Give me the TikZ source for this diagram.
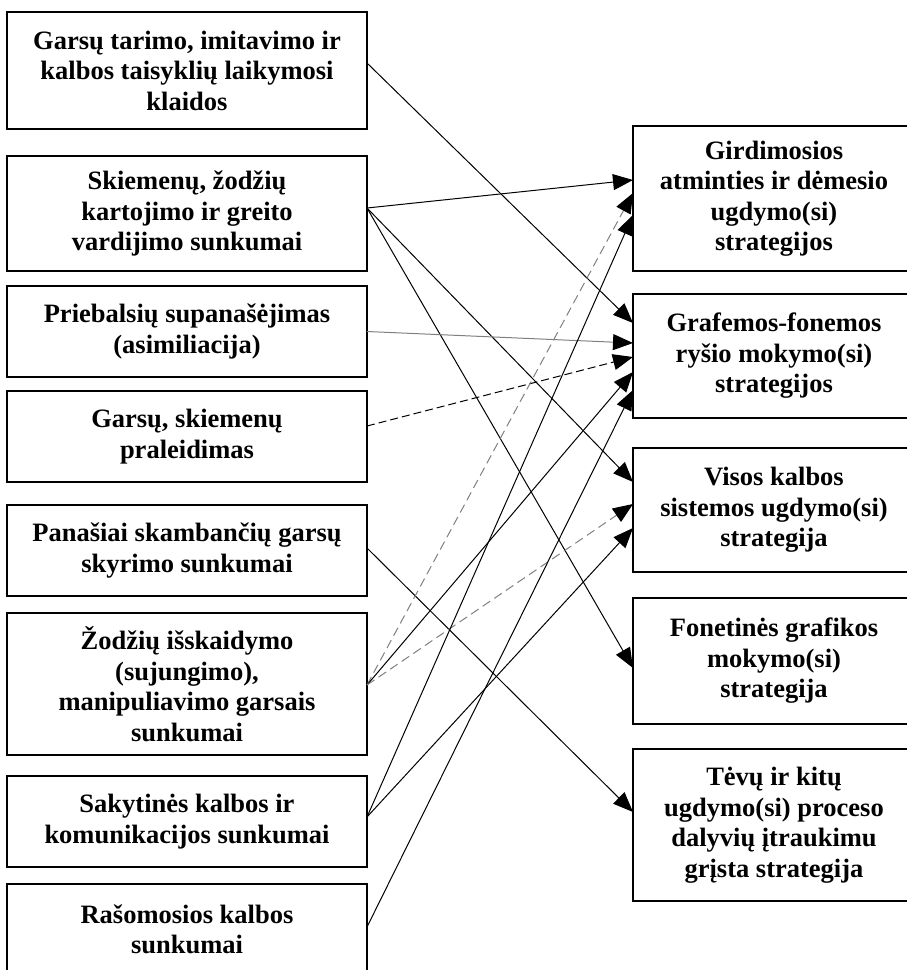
\documentclass[tikz,border=0pt]{standalone}
\usepackage{fontspec}
\setmainfont{Liberation Serif}
\usetikzlibrary{arrows.meta}

\tikzset{
  box/.style={draw, line width=1.8pt, outer sep=0pt, inner sep=0pt, align=center,
    font=\bfseries\fontsize{26.5}{30.5}\selectfont},
  lbox/.style={box, minimum width=360pt},
  rbox/.style={box, minimum width=282pt},
  conn/.style={line width=1pt, -{Triangle[length=20pt,width=16pt,color=black]}},
  greyconn/.style={conn, draw=gray},
  dashconn/.style={conn, dash pattern=on 8pt off 4pt},
  greydash/.style={conn, draw=gray, dash pattern=on 9pt off 5pt},
}

\begin{document}
\begin{tikzpicture}[x=1pt, y=-1pt]
  \useasboundingbox[fill=white] (0,0) rectangle (906,970);

  % difficulties (left column)
  \node[lbox, minimum height=117pt] (L1) at (187,70.5) {Garsų tarimo, imitavimo ir\\kalbos taisyklių laikymosi\\klaidos};
  \node[lbox, minimum height=115pt] (L2) at (187,213.5) {Skiemenų, žodžių\\kartojimo ir greito\\vardijimo sunkumai};
  \node[lbox, minimum height=91pt] (L3) at (187,331.5) {Priebalsių supanašėjimas\\(asimiliacija)};
  \node[lbox, minimum height=91pt] (L4) at (187,436.5) {Garsų, skiemenų\\praleidimas};
  \node[lbox, minimum height=91pt] (L5) at (187,550.5) {Panašiai skambančių garsų\\skyrimo sunkumai};
  \node[lbox, minimum height=142pt] (L6) at (187,684) {Žodžių išskaidymo\\(sujungimo),\\manipuliavimo garsais\\sunkumai};
  \node[lbox, minimum height=91pt] (L7) at (187,821.5) {Sakytinės kalbos ir\\komunikacijos sunkumai};
  \node[lbox, minimum height=91pt] (L8) at (187,929.5) {Rašomosios kalbos\\sunkumai};

  % strategies (right column)
  \node[rbox, minimum height=145pt] (R1) at (774,198.5) {Girdimosios\\atminties ir dėmesio\\ugdymo(si)\\strategijos};
  \node[rbox, minimum height=124pt] (R2) at (774,356) {Grafemos-fonemos\\ryšio mokymo(si)\\strategijos};
  \node[rbox, minimum height=124pt] (R3) at (774,510) {Visos kalbos\\sistemos ugdymo(si)\\strategija};
  \node[rbox, minimum height=126pt] (R4) at (774,661) {Fonetinės grafikos\\mokymo(si)\\strategija};
  \node[rbox, minimum height=152pt] (R5) at (774,825) {Tėvų ir kitų\\ugdymo(si) proceso\\dalyvių įtraukimu\\grįsta strategija};

  % links
  \draw[conn] ([yshift=7.5pt]L1.east) -- ([yshift=33pt]R2.west);
  \draw[conn] ([yshift=5.5pt]L2.east) -- ([yshift=18.5pt]R1.west);
  \draw[conn] ([yshift=5.5pt]L2.east) -- ([yshift=28pt]R3.west);
  \draw[conn] ([yshift=5.5pt]L2.east) -- ([yshift=-7pt]R4.west);
  \draw[greyconn] (L3.east) -- ([yshift=13pt]R2.west);
  \draw[dashconn] ([yshift=10.5pt]L4.east) -- ([yshift=-1pt]R2.west);
  \draw[conn] ([yshift=2.5pt]L5.east) -- ([yshift=13pt]R5.west);
  \draw[greydash] ([yshift=-1pt]L6.east) -- ([yshift=5.5pt]R1.west);
  \draw[conn] ([yshift=-1pt]L6.east) -- ([yshift=-16pt]R2.west);
  \draw[greydash] ([yshift=-1pt]L6.east) -- ([yshift=6pt]R3.west);
  \draw[conn] ([yshift=4.5pt]L7.east) -- ([yshift=-16.5pt]R1.west);
  \draw[conn] ([yshift=4.5pt]L7.east) -- ([yshift=-18pt]R3.west);
  \draw[conn] ([yshift=2.5pt]L8.east) -- ([yshift=-34pt]R2.west);
\end{tikzpicture}
\end{document}
